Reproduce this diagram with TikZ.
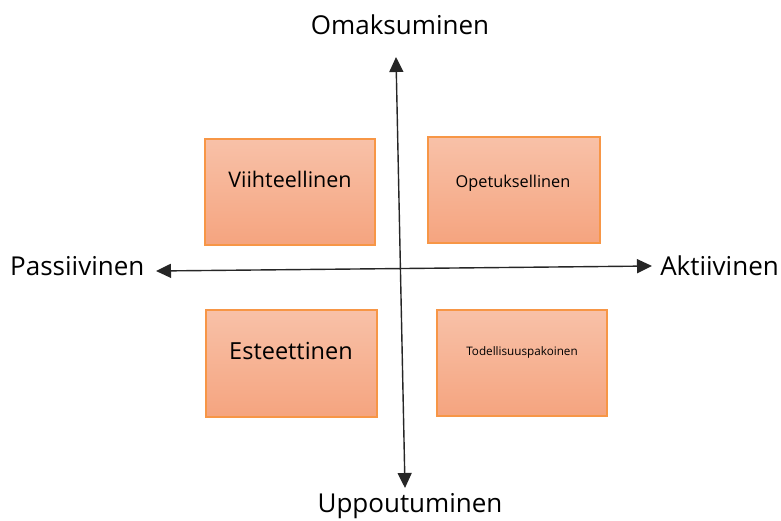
\documentclass[tikz,border=0pt]{standalone}
\usepackage{fontspec}
\setmainfont{Open Sans}
\usetikzlibrary{arrows.meta}
\definecolor{boxedge}{HTML}{F79646}
\definecolor{boxtop}{HTML}{F8C1A8}
\definecolor{boxbot}{HTML}{F5A47F}
\tikzset{
  quadbox/.style={draw=boxedge, line width=1.2pt, top color=boxtop, bottom color=boxbot, inner sep=0pt},
  axis/.style={line width=1.4pt, draw=black!85, {Triangle[length=15pt,width=14pt]}-{Triangle[length=15pt,width=14pt]}},
  axlabel/.style={inner sep=0pt, text=black, font=\fontsize{26}{30}\selectfont},
  boxtext/.style={inner sep=0pt, anchor=base, text=black},
}
\begin{document}
\begin{tikzpicture}[x=1pt,y=-1pt]
\useasboundingbox (0,0) rectangle (781,520);
% quadrant boxes
\node[quadbox, minimum width=170pt, minimum height=106pt] (viihde) at (290,192) {};
\node[quadbox, minimum width=172pt, minimum height=106pt] (opetus) at (514,190) {};
\node[quadbox, minimum width=171pt, minimum height=107pt] (este) at (291.5,363.5) {};
\node[quadbox, minimum width=170pt, minimum height=106pt] (pako) at (522,363) {};
% box texts
\node[boxtext, font=\fontsize{21.5}{24}\selectfont] (tviihde) at (290,187) {Viihteellinen};
\node[boxtext, font=\fontsize{16.3}{19}\selectfont] (topetus) at (513,187) {Opetuksellinen};
\node[boxtext, font=\fontsize{23.5}{27}\selectfont] (teste) at (291,359) {Esteettinen};
\node[boxtext, font=\fontsize{11.7}{14}\selectfont] (tpako) at (522,355) {Todellisuuspakoinen};
% axis labels
\node[axlabel, anchor=base] (omak) at (400,34) {Omaksuminen};
\node[axlabel, anchor=base] (uppo) at (410,512) {Uppoutuminen};
\node[axlabel, anchor=base west] (pass) at (10,275) {Passiivinen};
\node[axlabel, anchor=base east] (akti) at (779,275) {Aktiivinen};
% axis end points
\coordinate (left) at (156,271);
\coordinate (right) at (652,266);
\coordinate (top) at (396,57);
\coordinate (bottom) at (405,488);
\draw[axis] (left) -- (right);
\draw[axis] (top) -- (bottom);
\end{tikzpicture}
\end{document}
